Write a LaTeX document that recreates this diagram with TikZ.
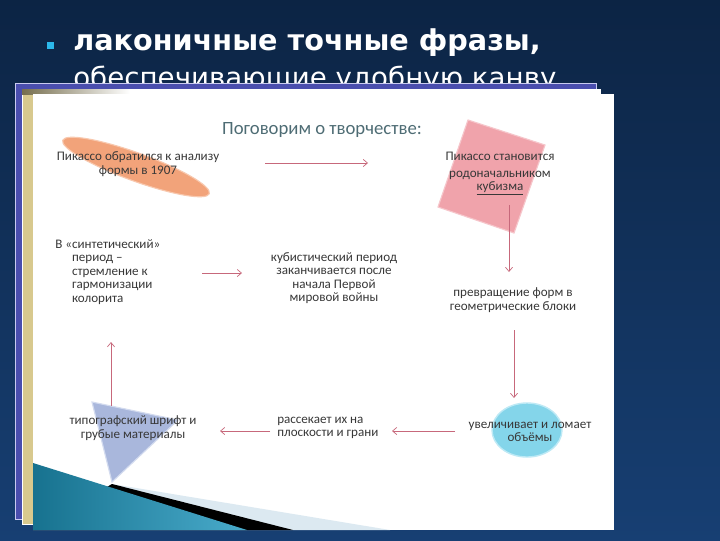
\documentclass[tikz,border=0pt]{standalone}
\usepackage{fontspec}
\setmainfont{Carlito}
\newfontfamily\headfont{DejaVu Sans}
\usetikzlibrary{arrows.meta}

\definecolor{bgtop}{HTML}{0C2444}
\definecolor{bgmid}{HTML}{1D4D8E}
\definecolor{bgbot}{HTML}{173F73}
\definecolor{bulletcol}{HTML}{2BB7EA}
\definecolor{backslide}{HTML}{4A4EAE}
\definecolor{backedge}{HTML}{C9CBF0}
\definecolor{midslide}{HTML}{D8C98E}
\definecolor{titlecol}{HTML}{4E6C74}
\definecolor{textcol}{HTML}{383838}
\definecolor{arrowcol}{HTML}{C7687B}
\definecolor{orangefill}{HTML}{F2A37A}
\definecolor{orangeedge}{HTML}{F8C8AE}
\definecolor{pinkfill}{HTML}{F0A3AB}
\definecolor{pinkedge}{HTML}{F6C6CB}
\definecolor{cyanfill}{HTML}{84D5EA}
\definecolor{cyanedge}{HTML}{BDE9F5}
\definecolor{trifill}{HTML}{A9B7DC}
\definecolor{triedge}{HTML}{D3DBEF}
\definecolor{tealdark}{HTML}{17728F}
\definecolor{teallight}{HTML}{49ABCB}
\definecolor{wedgelight}{HTML}{DCE9F1}

\tikzset{
  headtext/.style={text=white, inner sep=0pt, font=\headfont\fontsize{19.7}{22}\selectfont},
  flowtext/.style={text=textcol, inner sep=0pt, font=\fontsize{9.3}{9.6}\selectfont},
  titletext/.style={text=titlecol, inner sep=0pt, font=\fontsize{13.3}{15}\selectfont},
  flowarrow/.style={draw=arrowcol, line width=0.5pt, -{Straight Barb[length=3pt,width=5pt]}},
}

\begin{document}
\begin{tikzpicture}[x=0.025cm,y=-0.025cm]
\useasboundingbox (0,0) rectangle (720,540);

% Drawing background
\shade[top color=bgtop, middle color=bgmid, bottom color=bgbot] (0,0) rectangle (720,540);

% Marking bullet and heading
\fill[bulletcol] (47,42) rectangle (54,49);
\node[headtext, font=\headfont\bfseries\fontsize{20.4}{22}\selectfont, anchor=base west] (hbold) at (73,50) {лаконичные точные фразы,};
\node[headtext, anchor=base west] (hreg) at (73,87) {обеспечивающие удобную канву};

% Drawing slide stack
\filldraw[fill=backslide, draw=backedge, line width=0.6pt] (15,83) rectangle (596,519);
\filldraw[fill=midslide, draw=white, line width=0.4pt] (22,89) rectangle (600,524);
\fill[white] (22,89) rectangle (600,94);
\shade[left color=midslide!55!black, right color=white] (22,89) rectangle (130,94);
\fill[white] (33,94) rectangle (614,530);

% Drawing bottom wedge
\fill[wedgelight] (112,484) -- (390,530) -- (33,530) -- cycle;
\fill[black] (112,484) -- (293,530) -- (33,530) -- cycle;
\shade[left color=tealdark, right color=teallight] (33,463) -- (247,530) -- (33,530) -- cycle;

% Marking title
\node[titletext] (title) at (322,130) {Поговорим о творчестве:};

% Drawing shapes
\filldraw[fill=orangefill, draw=orangeedge, line width=0.8pt, rotate around={-20:(136,167)}] (136,167) ellipse (1.95cm and 0.35cm);
\filldraw[fill=pinkfill, draw=pinkedge, line width=0.8pt] (468,120) -- (545,145) -- (514,233) -- (438,207) -- cycle;
\filldraw[fill=cyanfill, draw=cyanedge, line width=1pt] (527,430) ellipse (0.875cm and 0.675cm);
\filldraw[fill=trifill, draw=triedge, line width=0.8pt] (92,402) -- (178,420) -- (112,482) -- cycle;

% Marking texts
\node[flowtext, align=center] (analysis) at (138,164) {Пикассо обратился к анализу\\формы в 1907};
\node[flowtext, align=center] (cubism) at (500,174) {Пикассо становится\\[2pt]родоначальником\\\underline{кубизма}};
\node[flowtext, align=center] (blocks) at (513,300) {превращение форм в\\геометрические блоки};
\node[flowtext, align=center] (volumes) at (530,432) {увеличивает и ломает\\объёмы};
\node[flowtext, align=left, anchor=west] (planes) at (277,428) {рассекает их на\\плоскости и грани};
\node[flowtext, align=center] (typeface) at (133,428) {типографский шрифт и\\грубые материалы};
\node[flowtext, align=left, anchor=west] (synthetic) at (55,272) {В «синтетический»\\\hspace*{0.42cm}период –\\\hspace*{0.42cm}стремление к\\\hspace*{0.42cm}гармонизации\\\hspace*{0.42cm}колорита};
\node[flowtext, align=center] (war) at (334,278) {кубистический период\\заканчивается после\\начала Первой\\мировой войны};

% Marking arrow ends
\coordinate (a1s) at (265,163); \coordinate (a1e) at (368,163);
\coordinate (a2s) at (509,205); \coordinate (a2e) at (509,272);
\coordinate (a3s) at (514,330); \coordinate (a3e) at (514,398);
\coordinate (a4s) at (455,431); \coordinate (a4e) at (392,431);
\coordinate (a5s) at (270,431); \coordinate (a5e) at (220,431);
\coordinate (a6s) at (111,406); \coordinate (a6e) at (111,342);
\coordinate (a7s) at (202,273); \coordinate (a7e) at (242,273);

% Drawing arrows
\draw[flowarrow] (a1s) -- (a1e);
\draw[flowarrow] (a2s) -- (a2e);
\draw[flowarrow] (a3s) -- (a3e);
\draw[flowarrow] (a4s) -- (a4e);
\draw[flowarrow] (a5s) -- (a5e);
\draw[flowarrow] (a6s) -- (a6e);
\draw[flowarrow] (a7s) -- (a7e);
\end{tikzpicture}
\end{document}
